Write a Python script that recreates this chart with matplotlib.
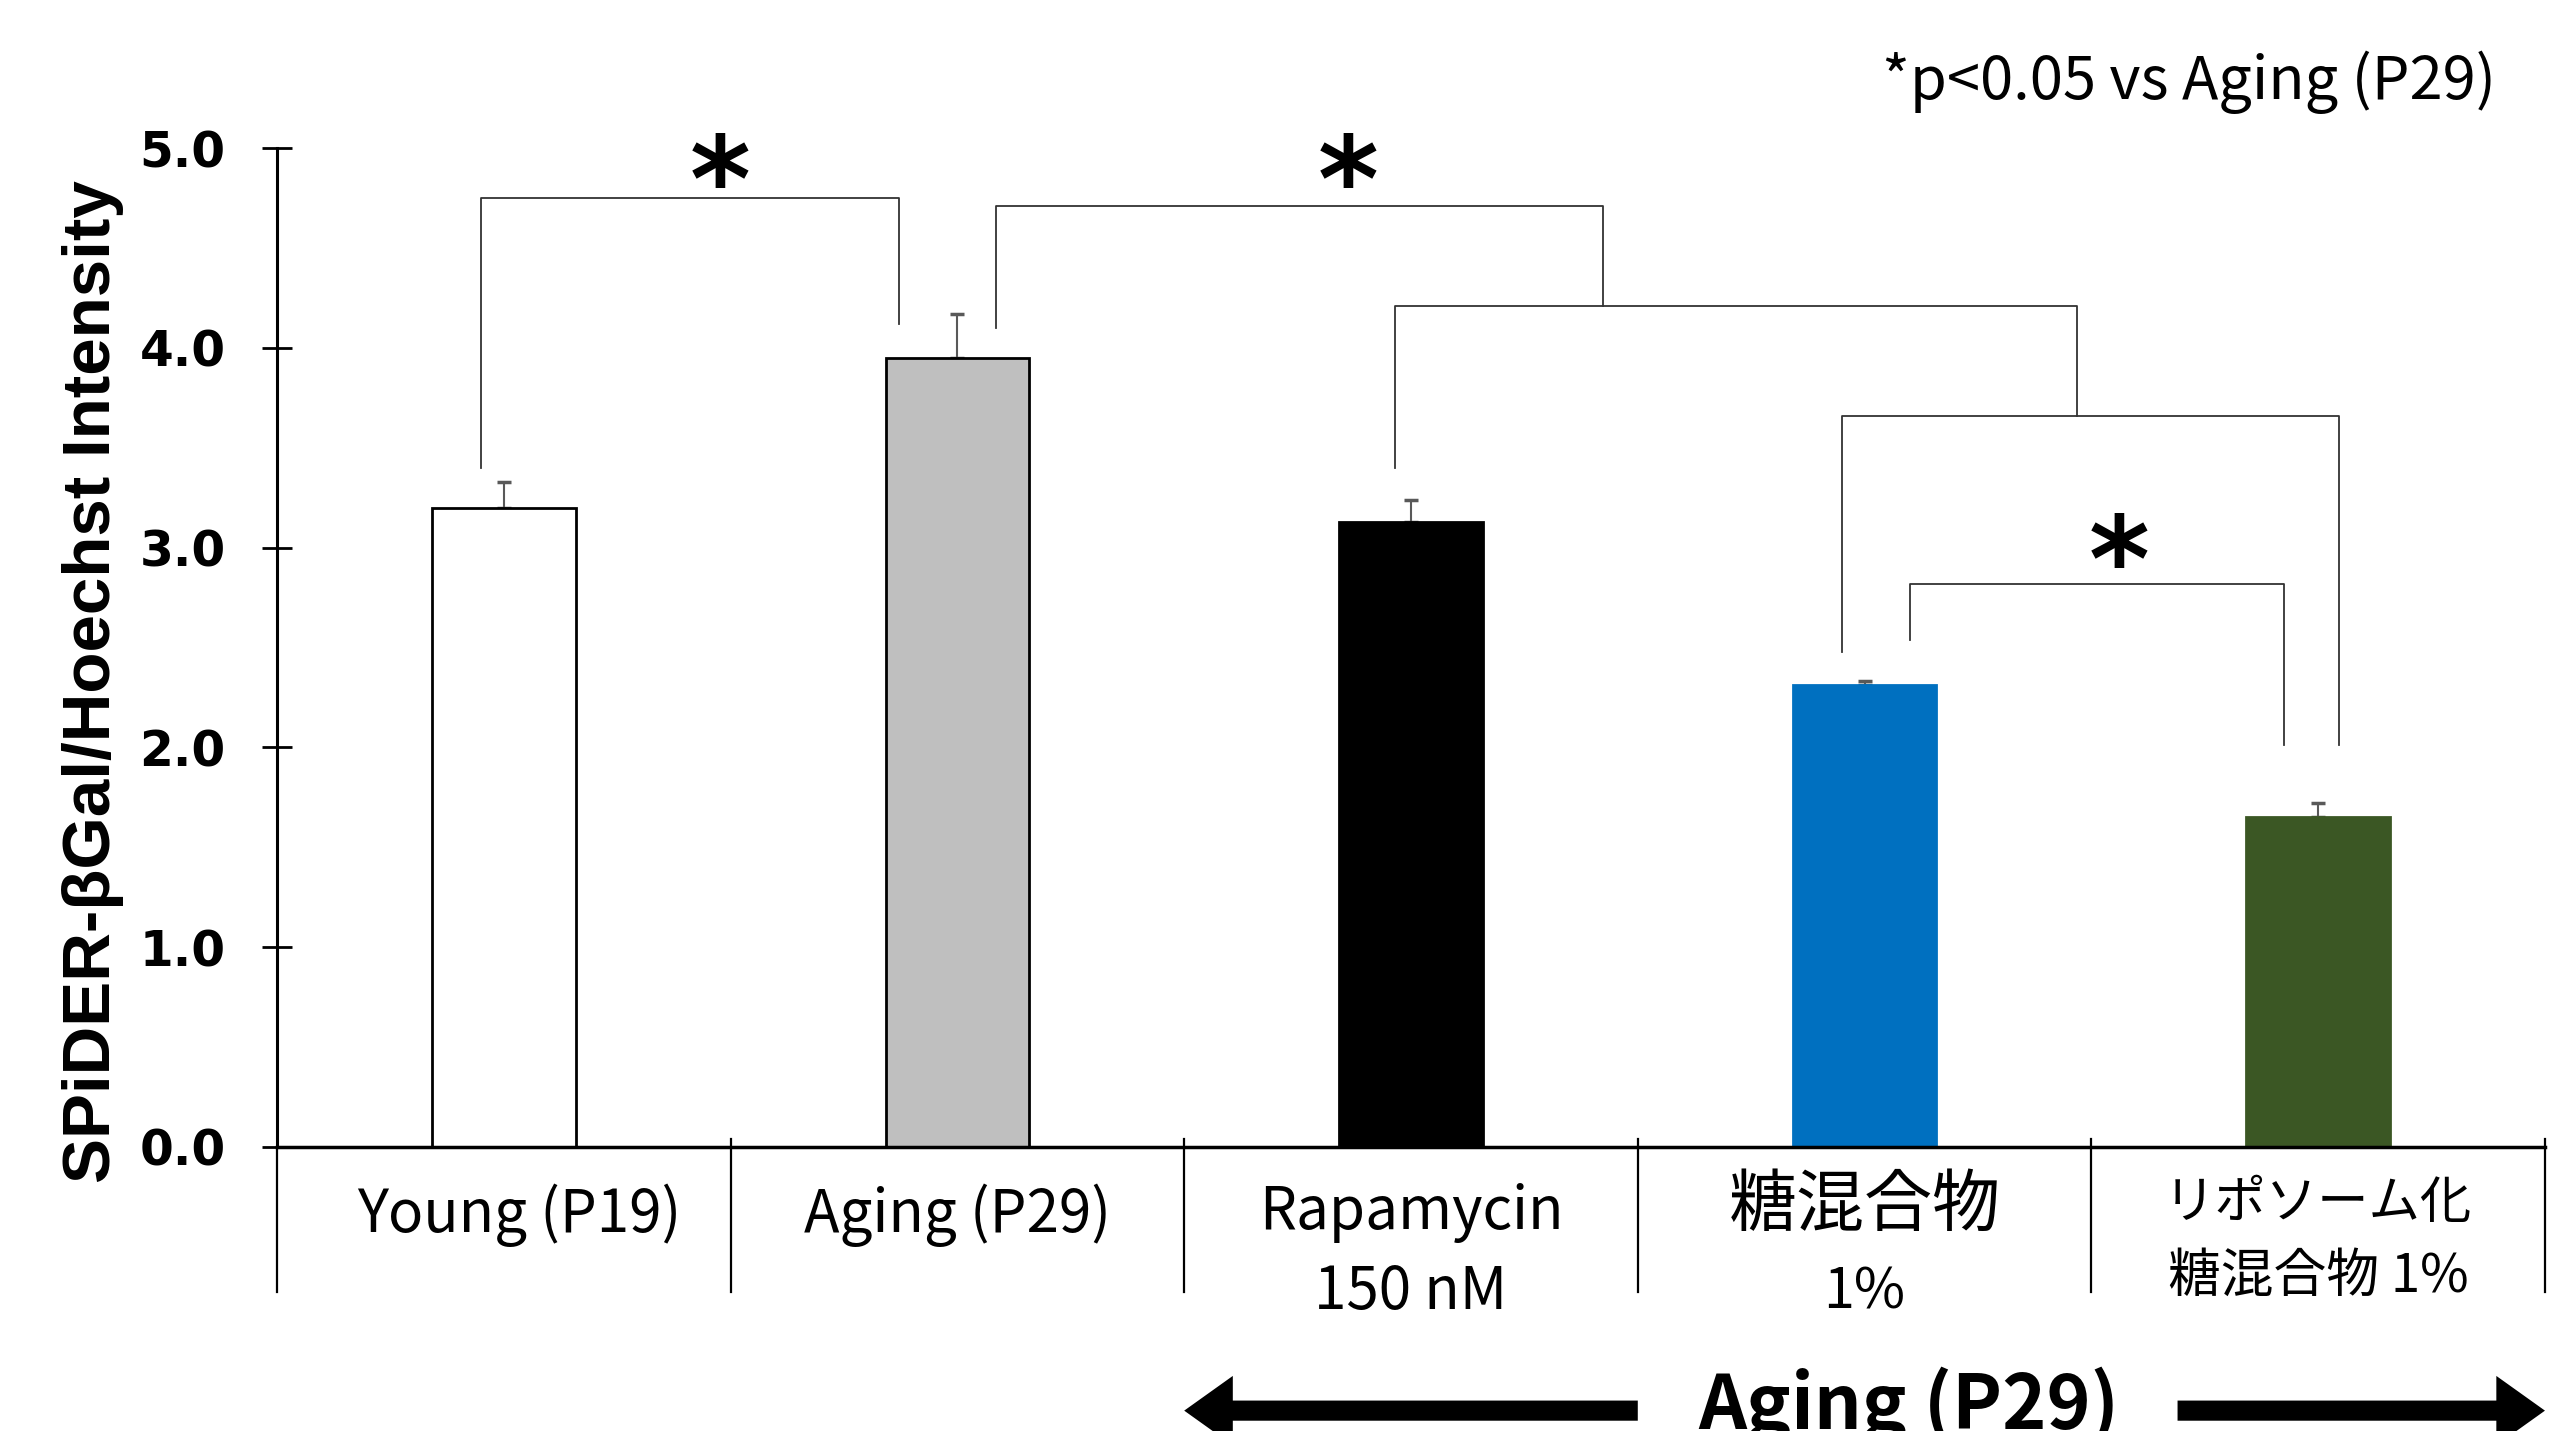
import matplotlib
matplotlib.use('Agg')
import matplotlib.pyplot as plt
import matplotlib.transforms as mtransforms

# データ
groups = ['Young (P19)', 'Aging (P29)', 'Rapamycin\n150 nM', '糖混合物\n1%', 'リポソーム化\n糖混合物 1%']
means = [3.20, 3.95, 3.13, 2.31, 1.65]
sems = [0.13, 0.22, 0.11, 0.02, 0.07]
bar_colors = ['#FFFFFF', '#BFBFBF', '#000000', '#0070C0', '#3B5724']
edge_colors = ['#000000', '#000000', '#000000', '#0070C0', '#3B5724']
yticks = [0.0, 1.0, 2.0, 3.0, 4.0, 5.0]
ylabel = 'SPiDER-βGal/Hoechst Intensity'
note = '*p<0.05 vs Aging (P29)'
bottom_label = 'Aging (P29)'

# 有意差ブラケット: (左x, 左脚y, 右x, 右脚y, 上辺y)
brackets = [
    (-0.05, 3.40, 0.872, 4.12, 4.75),
    (1.085, 4.10, 2.424, 4.21, 4.71),
    (1.964, 3.40, 3.468, 3.66, 4.21),
    (2.95, 2.48, 4.047, 2.01, 3.66),
    (3.10, 2.54, 3.924, 2.01, 2.82),
]
stars = [(0.478, 4.95), (1.862, 4.95), (3.561, 3.05)]

jp = ['Noto Sans CJK JP', 'DejaVu Sans']

fig = plt.figure(figsize=(25.58, 14.31), dpi=100)
ax = fig.add_axes([0.1083, 0.1985, 0.8866, 0.698])

x = list(range(len(groups)))
ax.errorbar(x, means, yerr=[[0] * len(sems), sems], fmt='none', ecolor='#595959',
            elinewidth=1.5, capsize=5, capthick=2.5, zorder=1)
ax.bar(x, means, width=0.317, color=bar_colors, edgecolor=edge_colors, linewidth=2, zorder=2)

ax.set_xlim(-0.5, 4.5)
ax.set_ylim(0, 5)
ax.spines['top'].set_visible(False)
ax.spines['right'].set_visible(False)
ax.spines['left'].set_linewidth(2.2)
ax.spines['bottom'].set_linewidth(2.5)
ax.set_xticks([])
ax.set_yticks(yticks)
ax.set_yticklabels([f'{v:.1f}' for v in yticks], fontsize=35, fontweight='bold', family='DejaVu Sans')
ax.tick_params(axis='y', direction='inout', length=22, width=2, pad=26)

# カテゴリ区切り線
for b in [i - 0.5 for i in range(len(groups) + 1)]:
    top = 0 if b == -0.5 else 0.04
    ax.plot([b, b], [top, -0.725], color='black', lw=1.6, clip_on=False)

# カテゴリラベル
for i, g in enumerate(groups):
    lines = g.split('\n')
    dx = 0.035 if i == 0 else 0
    if i == 3:
        fs, ys = [49, 40], [-0.30, -0.73]
    elif i == 4:
        fs, ys = [37, 38], [-0.28, -0.65]
    elif len(lines) == 2:
        fs, ys = [42, 42], [-0.33, -0.73]
    else:
        fs, ys = [42], [-0.34]
    for j, t in enumerate(lines):
        ax.text(i + dx, ys[j], t, ha='center', va='center', fontsize=fs[j], family=jp, clip_on=False)

# ブラケット
for lx, ly, rx, ry, ty in brackets:
    ax.plot([lx, lx, rx, rx], [ly, ty, ty, ry], color='#333333', lw=1.3, clip_on=False)

star_fs = 84
star_tr = ax.transData + mtransforms.ScaledTranslation(0, -0.54 * star_fs / 72, fig.dpi_scale_trans)
for sx, sy in stars:
    ax.text(sx, sy, '*', ha='center', va='baseline', fontsize=star_fs, fontweight='bold',
            family='DejaVu Sans', transform=star_tr, clip_on=False)

fig.text(93 / 2558, 1 - 682 / 1431, ylabel, rotation=90, ha='center', va='center',
         fontsize=48.5, fontweight='bold', family='Liberation Sans')
fig.text(2496 / 2558, 1 - 82 / 1431, note, ha='right', va='center', fontsize=43, family=jp)

# 下部の矢印
arrow_y = -1.32
style = 'simple,head_length=0.7,head_width=1.0,tail_width=0.29'
ax.annotate('', xy=(1.5, arrow_y), xytext=(2.5, arrow_y), annotation_clip=False,
            arrowprops=dict(arrowstyle=style, mutation_scale=50, color='black', lw=0,
                            shrinkA=0, shrinkB=0))
ax.annotate('', xy=(4.5, arrow_y), xytext=(3.69, arrow_y), annotation_clip=False,
            arrowprops=dict(arrowstyle=style, mutation_scale=50, color='black', lw=0,
                            shrinkA=0, shrinkB=0))
ax.text(3.097, -1.41, bottom_label, ha='center', va='baseline', fontsize=54,
        fontweight='bold', family=jp, clip_on=False)

fig.savefig('out.png', dpi=100)
